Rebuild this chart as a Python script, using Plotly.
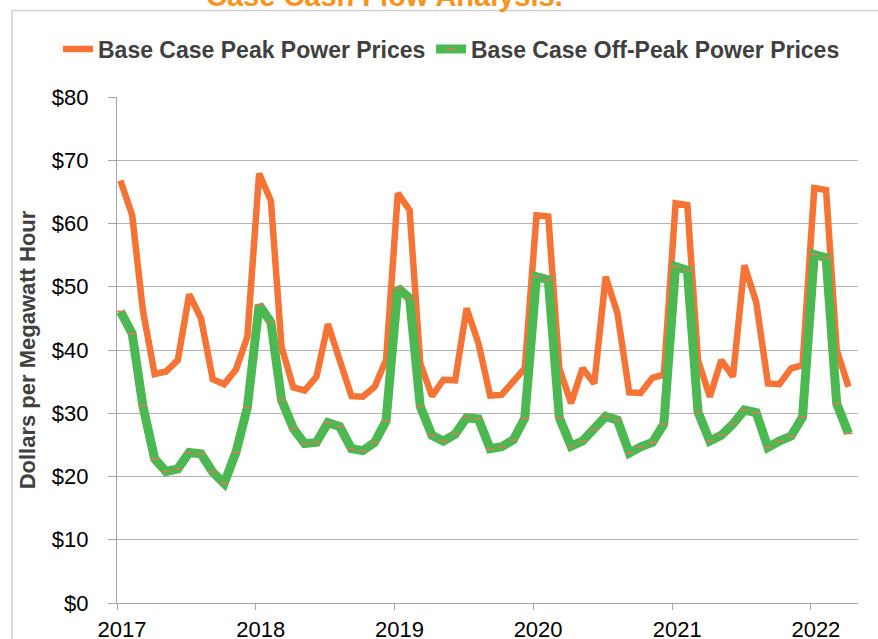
import plotly.graph_objects as go

# ---- data ----
months = [f"{y}-{m:02d}-10" for y in range(2017, 2023) for m in range(1, 13)][:64]

peak_prices = [
    66.8, 61.3, 46.3, 36.2, 36.6, 38.4, 48.8, 45.0, 35.4, 34.6, 36.9, 42.1,   # 2017
    67.9, 63.6, 40.5, 34.1, 33.6, 35.8, 44.1, 38.4, 32.7, 32.6, 34.2, 38.4,   # 2018
    64.8, 62.1, 37.9, 32.7, 35.3, 35.2, 46.6, 41.1, 32.8, 32.9, 35.0, 37.1,   # 2019
    61.3, 61.1, 37.1, 31.6, 37.1, 34.7, 51.6, 45.8, 33.3, 33.2, 35.6, 36.1,   # 2020
    63.2, 62.9, 38.4, 32.6, 38.4, 35.8, 53.4, 47.6, 34.7, 34.6, 37.1, 37.6,   # 2021
    65.6, 65.3, 40.0, 34.2,                                                   # 2022
]

offpeak_prices = [
    46.1, 42.6, 31.2, 22.8, 20.8, 21.2, 23.8, 23.6, 20.7, 18.9, 23.8, 30.9,   # 2017
    47.1, 44.4, 32.1, 27.6, 25.2, 25.4, 28.5, 27.9, 24.4, 24.1, 25.4, 28.8,   # 2018
    49.8, 48.2, 31.1, 26.5, 25.6, 26.7, 29.3, 29.1, 24.4, 24.7, 25.8, 29.2,   # 2019
    51.6, 51.1, 29.3, 24.8, 25.6, 27.4, 29.5, 28.9, 23.7, 24.7, 25.4, 28.3,   # 2020
    53.2, 52.6, 30.2, 25.6, 26.5, 28.3, 30.5, 30.1, 24.6, 25.6, 26.4, 29.4,   # 2021
    55.1, 54.6, 31.5, 26.8,                                                   # 2022
]

year_ticks = ["2017-01-01", "2018-01-01", "2019-01-01", "2020-01-01", "2021-01-01", "2022-01-01"]
year_labels = ["2017", "2018", "2019", "2020", "2021", "2022"]
y_ticks = [0, 10, 20, 30, 40, 50, 60, 70, 80]
y_labels = ["$0", "$10", "$20", "$30", "$40", "$50", "$60", "$70", "$80"]

FONT = "Arial, Liberation Sans, Helvetica, sans-serif"
ORANGE = "#F47335"
GREEN = "#4CB852"

# pixel geometry of the plot area
W, H = 878, 639
L, R, T, B = 117, 858, 97, 603
PW, PH = R - L, B - T

def px_x(p):
    return (p - L) / PW

def px_y(p):
    return (B - p) / PH

fig = go.Figure()

fig.add_trace(go.Scatter(
    x=months, y=peak_prices, name="Base Case Peak Power Prices",
    mode="lines", line=dict(color=ORANGE, width=6.5),
    legend="legend",
))
fig.add_trace(go.Scatter(
    x=months, y=offpeak_prices, name="Base Case Off-Peak Power Prices",
    mode="lines+markers", line=dict(color=GREEN, width=9),
    marker=dict(symbol="line-ew", size=6, color="#E0785A",
                line=dict(color="#E0785A", width=1.5)),
    legend="legend2",
))

legend_font = dict(family=FONT, size=23, color="#404040", weight="bold")

fig.update_layout(
    width=W, height=H,
    margin=dict(l=L, r=W - R, t=T, b=H - B, pad=0, autoexpand=False),
    paper_bgcolor="white", plot_bgcolor="white",
    showlegend=True,
    legend=dict(x=px_x(58), y=px_y(49), xanchor="left", yanchor="middle",
                orientation="h", font=legend_font, bgcolor="rgba(0,0,0,0)",
                itemwidth=30, tracegroupgap=0),
    legend2=dict(x=px_x(431), y=px_y(49), xanchor="left", yanchor="middle",
                 orientation="h", font=legend_font, bgcolor="rgba(0,0,0,0)",
                 itemwidth=30, tracegroupgap=0),
    xaxis=dict(
        type="date", range=["2017-01-01", "2022-05-05"],
        tickvals=year_ticks, ticktext=year_labels,
        showgrid=False, zeroline=False,
        showline=True, linecolor="#A6A6A6", linewidth=1.3,
        ticks="outside", ticklen=6, tickcolor="#A6A6A6", tickwidth=1.3,
        ticklabelshift=5,
        tickfont=dict(family=FONT, size=22, color="#000000"),
    ),
    yaxis=dict(
        range=[0, 80], tickvals=y_ticks, ticktext=y_labels,
        showgrid=True, gridcolor="#B3B3B3", gridwidth=1.4,
        zeroline=False,
        showline=True, linecolor="#A6A6A6", linewidth=1.3,
        ticks="outside", ticklen=8, tickcolor="#A6A6A6", tickwidth=1.3,
        ticklabelstandoff=15,
        tickfont=dict(family=FONT, size=22, color="#000000"),
        title=dict(text="Dollars per Megawatt Hour", standoff=10,
                   font=dict(family=FONT, size=22, color="#404040", weight="bold")),
    ),
    shapes=[
        dict(type="line", xref="paper", yref="paper",
             x0=px_x(12), x1=px_x(W + 5), y0=px_y(10.5), y1=px_y(10.5),
             line=dict(color="#D0D0D0", width=1.5), layer="below"),
        dict(type="line", xref="paper", yref="paper",
             x0=px_x(12), x1=px_x(12), y0=px_y(10.5), y1=px_y(H + 5),
             line=dict(color="#D0D0D0", width=1.5), layer="below"),
    ],
    annotations=[
        dict(text="Case Cash Flow Analysis.", xref="paper", yref="paper",
             x=px_x(384), y=px_y(-3.5), xanchor="center", yanchor="middle",
             showarrow=False,
             font=dict(family=FONT, size=29, color="#F7941D", weight="bold")),
    ],
)

fig.write_html("out.html", config={"displayModeBar": False},
               post_script="document.body.style.margin='0';")
